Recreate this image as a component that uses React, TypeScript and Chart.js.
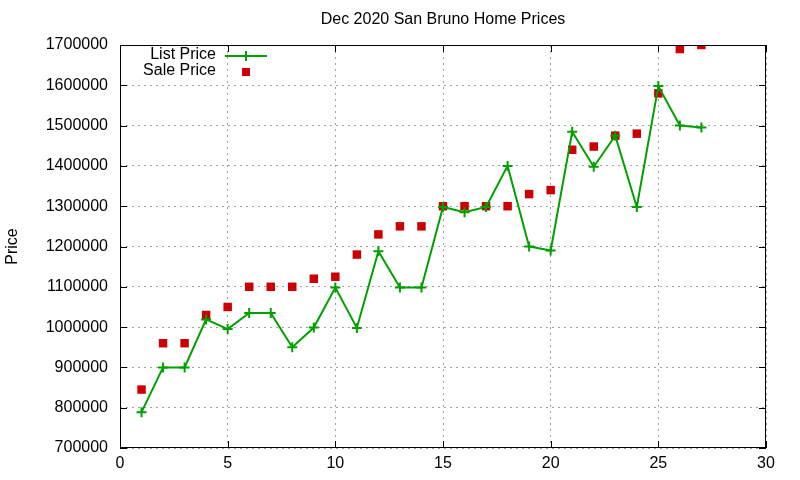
import { useEffect, useRef } from 'react';
import { Chart, registerables, Plugin } from 'chart.js';

Chart.register(...registerables);

const days = [1, 2, 3, 4, 5, 6, 7, 8, 9, 10, 11, 12, 13, 14, 15, 16, 17, 18, 19, 20, 21, 22, 23, 24, 25, 26, 27];
const listPrices = [
  789000, 900000, 900000, 1019000, 995000, 1035000, 1035000, 950000, 999000, 1098000,
  998000, 1188000, 1098000, 1098000, 1298000, 1285000, 1298000, 1400000, 1200000, 1190000,
  1485000, 1398000, 1475000, 1298000, 1598000, 1500000, 1495000,
];
const salePrices = [
  845000, 960000, 960000, 1030000, 1050000, 1100000, 1100000, 1100000, 1120000, 1125000,
  1180000, 1230000, 1250000, 1250000, 1300000, 1300000, 1300000, 1300000, 1330000, 1340000,
  1440000, 1448000, 1475000, 1480000, 1580000, 1690000, 1700000,
];
const seriesNames = ['List Price', 'Sale Price'];
const chartTitle = 'Dec 2020 San Bruno Home Prices';

const GREEN = '#00a000';
const RED = '#cc0000';
const FONT = '"Liberation Sans", Arial, sans-serif';

// gnuplot style frame with inward ticks on all sides, title over the plot, and the key
const framePlugin: Plugin = {
  id: 'frame',
  afterDatasetsDraw(chart) {
    const { ctx, chartArea: a, scales } = chart;
    ctx.save();
    ctx.strokeStyle = '#000';
    ctx.lineWidth = 1;
    ctx.setLineDash([]);
    ctx.strokeRect(a.left + 0.5, a.top + 0.5, a.right - a.left - 1, a.bottom - a.top - 1);
    const len = 7;
    ctx.beginPath();
    scales.x.ticks.forEach((t) => {
      const px = Math.round(scales.x.getPixelForValue(t.value)) + 0.5;
      ctx.moveTo(px, a.bottom);
      ctx.lineTo(px, a.bottom - len);
      ctx.moveTo(px, a.top);
      ctx.lineTo(px, a.top + len);
    });
    scales.y.ticks.forEach((t) => {
      const py = Math.round(scales.y.getPixelForValue(t.value)) + 0.5;
      ctx.moveTo(a.left, py);
      ctx.lineTo(a.left + len, py);
      ctx.moveTo(a.right, py);
      ctx.lineTo(a.right - len, py);
    });
    ctx.stroke();

    ctx.font = `16px ${FONT}`;
    ctx.fillStyle = '#000';
    ctx.textBaseline = 'middle';
    ctx.textAlign = 'center';
    ctx.fillText(chartTitle, (a.left + a.right) / 2, 20);

    // key
    ctx.textAlign = 'right';
    ctx.fillText(seriesNames[0], 216, 55);
    ctx.fillText(seriesNames[1], 216, 71);
    ctx.strokeStyle = GREEN;
    ctx.lineWidth = 2;
    ctx.beginPath();
    ctx.moveTo(225, 56);
    ctx.lineTo(267, 56);
    ctx.moveTo(246, 51);
    ctx.lineTo(246, 61);
    ctx.stroke();
    ctx.fillStyle = RED;
    ctx.fillRect(242, 68, 8, 8);
    ctx.restore();
  },
};

export default function App() {
  const canvasRef = useRef<HTMLCanvasElement>(null);

  useEffect(() => {
    if (!canvasRef.current) return;
    const chart = new Chart(canvasRef.current, {
      type: 'line',
      data: {
        datasets: [
          {
            label: seriesNames[0],
            data: days.map((d, i) => ({ x: d, y: listPrices[i] })),
            borderColor: GREEN,
            backgroundColor: GREEN,
            borderWidth: 2,
            pointStyle: 'cross',
            pointRadius: 5,
            pointBorderWidth: 2,
            tension: 0,
          },
          {
            label: seriesNames[1],
            data: days.map((d, i) => ({ x: d, y: salePrices[i] })),
            showLine: false,
            borderColor: RED,
            backgroundColor: RED,
            pointStyle: 'rect',
            pointRadius: 6,
            pointBorderWidth: 0,
          },
        ],
      },
      options: {
        responsive: false,
        animation: false,
        layout: { padding: { left: 0, right: 34, top: 45, bottom: 0 } },
        plugins: {
          legend: { display: false },
          tooltip: { enabled: false },
          title: { display: false },
        },
        scales: {
          x: {
            type: 'linear',
            min: 0,
            max: 30,
            ticks: {
              stepSize: 5,
              color: '#000',
              padding: 6,
              font: { family: FONT, size: 16 },
            },
            grid: { color: '#a0a0a0', drawTicks: false, lineWidth: 1 },
            border: { display: false, dash: [2, 4] },
            afterFit: (s: any) => { s.height = 32; },
          },
          y: {
            min: 700000,
            max: 1700000,
            ticks: {
              stepSize: 100000,
              color: '#000',
              padding: 12,
              font: { family: FONT, size: 16 },
              callback: (v: any) => String(v),
            },
            title: {
              display: true,
              text: 'Price',
              color: '#000',
              font: { family: FONT, size: 16 },
              padding: { top: 3, bottom: 0 },
            },
            grid: { color: '#a0a0a0', drawTicks: false, lineWidth: 1 },
            border: { display: false, dash: [2, 4] },
            afterFit: (s: any) => { s.width = 120; },
          },
        },
      },
      plugins: [framePlugin],
    });
    return () => chart.destroy();
  }, []);

  return (
    <div style={{ position: 'fixed', left: 0, top: 0, width: 800, height: 480, background: '#fff' }}>
      <canvas ref={canvasRef} width={800} height={480} />
    </div>
  );
}
